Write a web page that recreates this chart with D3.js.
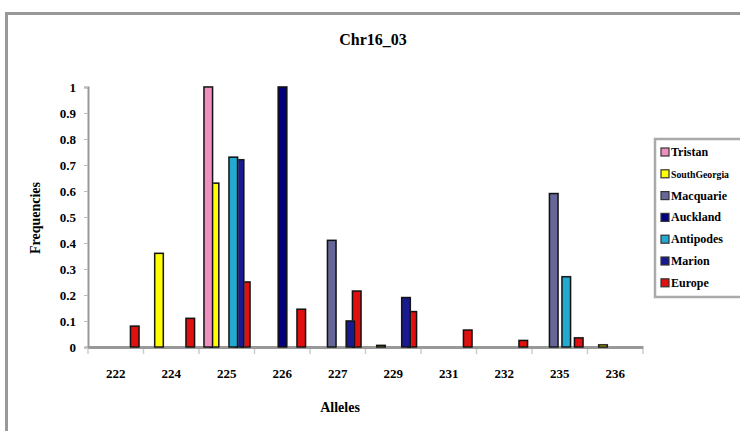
<!DOCTYPE html>
<html><head><meta charset="utf-8">
<script src="https://cdn.jsdelivr.net/npm/d3@7"></script>
<style>body{margin:0;background:#fff}svg{display:block}svg text{font-family:"Liberation Serif","DejaVu Serif","Times New Roman",serif !important;font-weight:bold}</style>
</head><body><svg id="c" width="740" height="431"></svg>
<script>
const categories = ["222","224","225","226","227","229","231","232","235","236"];
const seriesNames = ["Tristan","SouthGeorgia","Macquarie","Auckland","Antipodes","Marion","Europe"];
const seriesColors = ["#F090C0","#FFFF00","#666699","#000080","#22AAD0","#1A1A90","#E01010"];
const tristan      = [0,0,1.0,0,0,0,0,0,0,0];
const southGeorgia = [0,0.36,0.63,0,0,0.006,0,0,0,0.008];
const macquarie    = [0,0,0,0,0.41,0,0,0,0.59,0];
const auckland     = [0,0,0,1.0,0,0,0,0,0,0];
const antipodes    = [0,0,0.73,0,0,0,0,0,0.27,0];
const marion       = [0,0,0.72,0,0.10,0.19,0,0,0,0];
const europe       = [0.08,0.11,0.25,0.145,0.215,0.136,0.065,0.025,0.035,0];
const yTicks = [0,0.1,0.2,0.3,0.4,0.5,0.6,0.7,0.8,0.9,1];

const seriesValues = [tristan, southGeorgia, macquarie, auckland, antipodes, marion, europe];

const svg = d3.select("#c");
svg.append("path").attr("d","M6.5,431 L6.5,13.5 L740,13.5").attr("fill","none").attr("stroke","#999").attr("stroke-width",3);

const L=88, R=643, T=87, B=347;
const x = d3.scaleBand().domain(categories).range([L,R]);
const y = d3.scaleLinear().domain([0,1]).range([B,T]);
const barW = 8.5, step = 6.25;

svg.append("text").attr("x",373).attr("y",45).attr("text-anchor","middle").attr("font-size",16).text("Chr16_03");

const ya = svg.append("g").attr("transform",`translate(${L},0)`).call(d3.axisLeft(y).tickValues(yTicks).tickSize(4).tickFormat(d=>d===0?"0":d===1?"1":d3.format(".1f")(d)));
ya.select(".domain").attr("stroke","#999").attr("stroke-width",2);
ya.selectAll(".tick line").attr("stroke","#bbb");
ya.selectAll("text").attr("font-size",13).attr("fill","#000").attr("x",-12);

const xa = svg.append("g").attr("transform",`translate(0,${B})`).call(d3.axisBottom(x).tickSize(0).tickPadding(22));
xa.select(".domain").attr("stroke","#999").attr("stroke-width",3);
xa.selectAll("text").attr("font-size",13).attr("fill","#000");
const bounds = categories.map(c=>x(c)).concat([R]);
svg.append("g").selectAll("line").data(bounds).join("line")
  .attr("x1",d=>d).attr("x2",d=>d).attr("y1",B+2).attr("y2",B+7).attr("stroke","#ccc").attr("stroke-width",1.5);

svg.append("text").attr("x",340).attr("y",412).attr("text-anchor","middle").attr("font-size",14).text("Alleles");
svg.append("text").attr("transform","translate(40,218) rotate(-90)").attr("text-anchor","middle").attr("font-size",14).text("Frequencies");

const bars = svg.append("g");
for (let s=6; s>=0; s--) {
  const g = bars.append("g");
  const data = categories.map((c,i)=>({c, v:seriesValues[s][i]})).filter(d=>d.v>0);
  g.selectAll("rect.sh").data(data).join("rect")
    .attr("x",d=>x(d.c)+5+s*step-1).attr("y",d=>y(d.v)-1)
    .attr("width",barW+2).attr("height",d=>B-y(d.v)+1).attr("fill","#888").attr("opacity",0.6);
  g.selectAll("rect.b").data(data).join("rect")
    .attr("x",d=>x(d.c)+5+s*step).attr("y",d=>y(d.v))
    .attr("width",barW).attr("height",d=>B-y(d.v))
    .attr("fill",seriesColors[s]).attr("stroke","#111").attr("stroke-width",1.4);
}

const lg = svg.append("g");
lg.append("rect").attr("x",655).attr("y",139).attr("width",100).attr("height",158).attr("fill","#fff").attr("stroke","#aaa").attr("stroke-width",2.5);
const items = lg.selectAll("g.it").data(seriesNames).join("g").attr("transform",(d,i)=>`translate(661,${152+i*21.8})`);
items.append("rect").attr("x",0).attr("y",-4).attr("width",8).attr("height",8).attr("fill",(d,i)=>seriesColors[i]).attr("stroke","#333").attr("stroke-width",1.2);
items.append("text").attr("x",10).attr("y",4).attr("font-size",12).text(d=>d)
  .each(function(){ const w=this.getComputedTextLength(); if (w>62) d3.select(this).attr("font-size",12*58/w); });
</script></body></html>
